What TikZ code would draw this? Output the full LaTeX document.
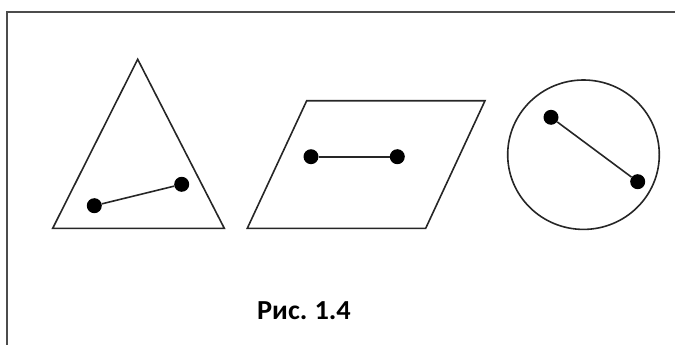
\documentclass[tikz,border=0pt]{standalone}
\usepackage{fontspec}
\setmainfont{Carlito}
\begin{document}
\begin{tikzpicture}[x=1pt,y=-1pt,
  shapeline/.style={draw=black!85, line width=1.6pt, line join=miter},
  dot/.style={circle, fill=black, inner sep=0pt, minimum size=15pt},
  seg/.style={draw=black!85, line width=1.6pt},
  frameline/.style={draw=black!70, line width=2pt}]
\useasboundingbox (0,0) rectangle (675,345);
% frame
\draw[frameline] (6.5,345) -- (6.5,12) -- (675,12);
% triangle
\draw[shapeline] (137.7,59.3) -- (224.3,228.3) -- (52.7,228.3) -- cycle;
\node[dot] (t1) at (94.3,205.7) {};
\node[dot] (t2) at (181.7,184.3) {};
\draw[seg] (t1) -- (t2);
% parallelogram
\draw[shapeline] (306.7,100.7) -- (485,100.7) -- (425.7,228.3) -- (247.3,228.3) -- cycle;
\node[dot] (p1) at (311,156.7) {};
\node[dot] (p2) at (397.3,156.7) {};
\draw[seg] (p1) -- (p2);
% circle
\draw[shapeline] (583.5,154.7) ellipse [x radius=75.8, y radius=74.7];
\node[dot] (c1) at (551,117.3) {};
\node[dot] (c2) at (637.7,181.7) {};
\draw[seg] (c1) -- (c2);
% caption
\node[font=\bfseries\fontsize{27.5}{32}\selectfont, anchor=base, xscale=1.03] (cap) at (304,319.3) {Рис.\hspace{-0.05em} 1.4};
\end{tikzpicture}
\end{document}
